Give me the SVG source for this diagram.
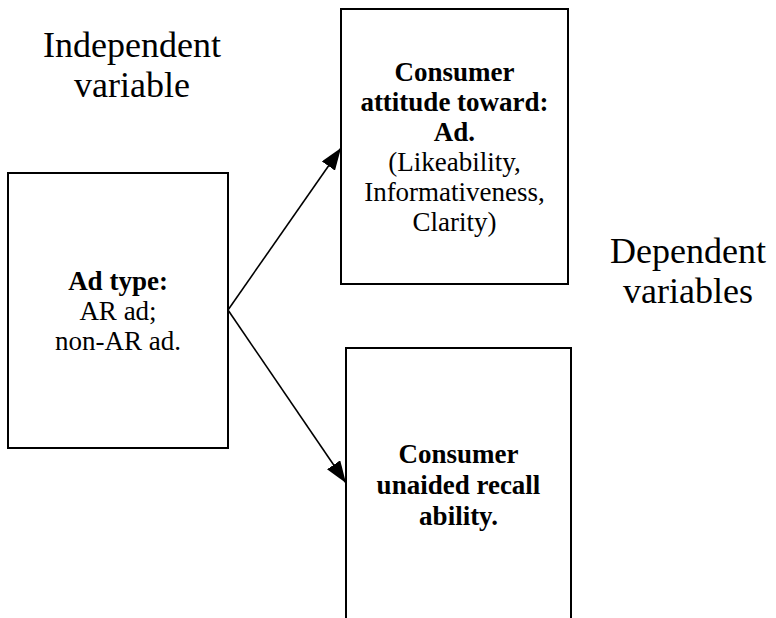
<svg xmlns="http://www.w3.org/2000/svg" width="776" height="618" viewBox="0 0 776 618">
<style>
  .box { fill: #fff; stroke: #000; stroke-width: 2; }
  .conn { stroke: #000; stroke-width: 1.6; fill: none; }
</style>
<defs>
  <marker id="ah" viewBox="0 0 22 16" refX="22" refY="8" markerWidth="22" markerHeight="16" markerUnits="userSpaceOnUse" orient="auto">
    <path d="M0,0 L22,8 L0,16 z" fill="#000"/>
  </marker>
</defs>
<rect width="776" height="618" fill="#fff"/>
<g id="label-independent" text-anchor="middle" fill="#000">
  <text x="132" y="57" font-family="Liberation Serif" font-size="36">Independent</text>
  <text x="132" y="97" font-family="Liberation Serif" font-size="36">variable</text>
</g>
<g id="label-dependent" text-anchor="middle" fill="#000">
  <text x="688" y="263" font-family="Liberation Serif" font-size="36">Dependent</text>
  <text x="688" y="303" font-family="Liberation Serif" font-size="36">variables</text>
</g>
<g id="node-adtype" text-anchor="middle" fill="#000">
  <rect class="box" x="8" y="173" width="220" height="275"/>
  <text x="118" y="290" font-family="Liberation Serif" font-size="27" font-weight="bold">Ad type:</text>
  <text x="118" y="320" font-family="Liberation Serif" font-size="27">AR ad;</text>
  <text x="118" y="350" font-family="Liberation Serif" font-size="27">non-AR ad.</text>
</g>
<g id="node-attitude" text-anchor="middle" fill="#000">
  <rect class="box" x="341" y="9" width="227" height="275"/>
  <text x="454.5" y="81" font-family="Liberation Serif" font-size="27" font-weight="bold">Consumer</text>
  <text x="454.5" y="111" font-family="Liberation Serif" font-size="27" font-weight="bold">attitude toward:</text>
  <text x="454.5" y="141" font-family="Liberation Serif" font-size="27" font-weight="bold">Ad.</text>
  <text x="454.5" y="171" font-family="Liberation Serif" font-size="27">(Likeability,</text>
  <text x="454.5" y="201" font-family="Liberation Serif" font-size="27">Informativeness,</text>
  <text x="454.5" y="231" font-family="Liberation Serif" font-size="27">Clarity)</text>
</g>
<g id="node-recall" text-anchor="middle" fill="#000">
  <rect class="box" x="346" y="348" width="225" height="290"/>
  <text x="458.5" y="463" font-family="Liberation Serif" font-size="27" font-weight="bold">Consumer</text>
  <text x="458.5" y="494" font-family="Liberation Serif" font-size="27" font-weight="bold">unaided recall</text>
  <text x="458.5" y="525" font-family="Liberation Serif" font-size="27" font-weight="bold">ability.</text>
</g>
<g id="connectors">
  <line class="conn" x1="228" y1="310" x2="341" y2="148" marker-end="url(#ah)"/>
  <line class="conn" x1="228" y1="310" x2="346" y2="483" marker-end="url(#ah)"/>
</g>
</svg>
